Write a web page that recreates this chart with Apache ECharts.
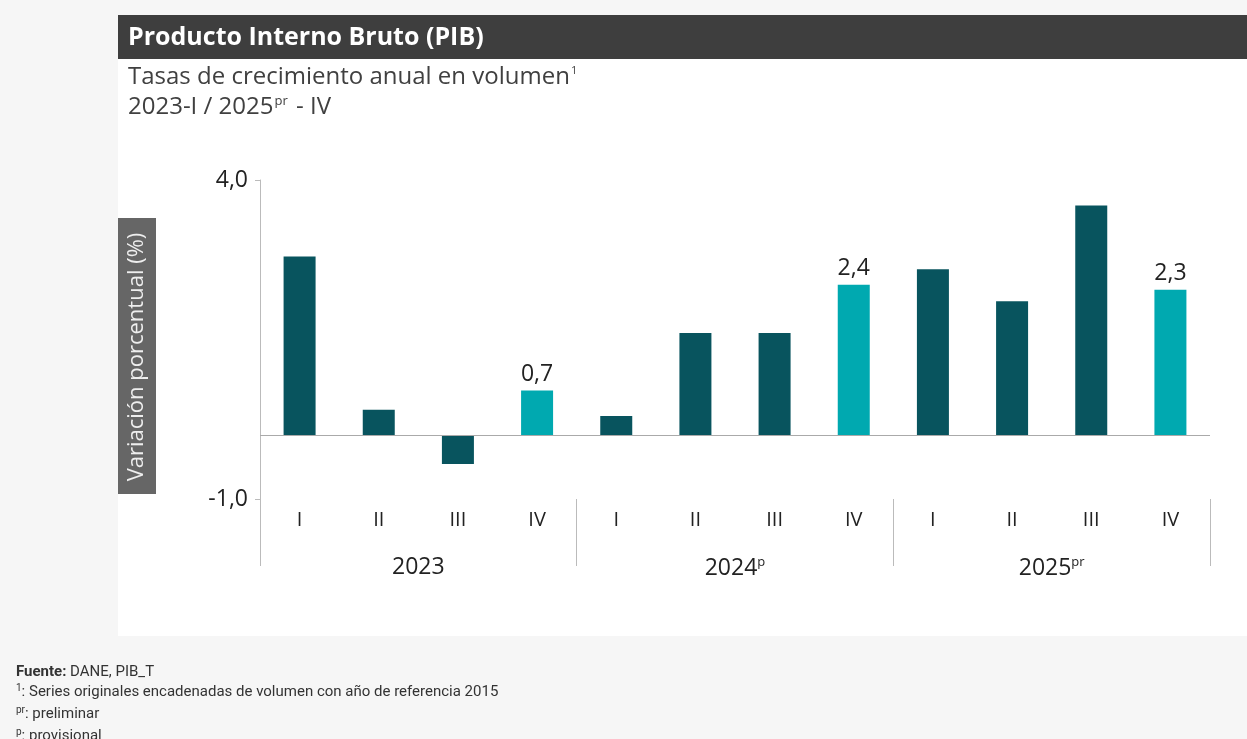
<!DOCTYPE html>
<html>
<head>
<meta charset="utf-8">
<style>
html,body{margin:0;padding:0;background:#f6f6f6;}
#chart{width:1247px;height:739px;}
</style>
<script src="https://cdn.jsdelivr.net/npm/echarts@6/dist/echarts.min.js"></script>
</head>
<body>
<div id="chart"></div>
<script>
const quarters = ['I','II','III','IV','I','II','III','IV','I','II','III','IV'];
const years = ['2023','2024','2025'];
const yearSup = {'2023':'', '2024':'p', '2025':'pr'};
const values = [2.8, 0.4, -0.45, 0.7, 0.3, 1.6, 1.6, 2.36, 2.6, 2.1, 3.6, 2.28];

const DARK = '#08545e', LIGHT = '#00a9b0';
const FONT = 'Open Sans';

const chart = echarts.init(document.getElementById('chart'));
const fmt = v => v.toFixed(1).replace('.', ',');

const barData = values.map((v, i) => {
  const hi = quarters[i] === 'IV';
  return {
    value: v,
    itemStyle: {color: hi ? LIGHT : DARK},
    label: {show: hi}
  };
});

chart.setOption({
  backgroundColor: '#f6f6f6',
  animation: false,
  graphic: [
    {type:'rect', z:-10, shape:{x:118,y:15,width:1129,height:621}, style:{fill:'#ffffff'}},
    {type:'rect', z:-9, shape:{x:118,y:15,width:1129,height:44}, style:{fill:'#3e3e3e'}},
    {type:'text', x:128, y:38, style:{text:'Producto Interno Bruto (PIB)', fill:'#ffffff', font:'bold 25px "Open Sans"', textVerticalAlign:'middle'}},
    {type:'text', x:128, y:77, style:{
      text:'Tasas de crecimiento anual en volumen{s|1}', textVerticalAlign:'middle',
      fill:'#404040', font:'24px "Open Sans"',
      rich:{s:{fontSize:11, fontFamily:FONT, fill:'#404040', verticalAlign:'top', padding:[0,0,12,1]}}
    }},
    {type:'text', x:128, y:107, style:{
      text:'2023-I / 2025{s|pr} - IV', textVerticalAlign:'middle',
      fill:'#404040', font:'24px "Open Sans"',
      rich:{s:{fontSize:13, fontFamily:FONT, fill:'#404040', verticalAlign:'top', padding:[0,2,10,1]}}
    }},
    {type:'rect', shape:{x:118,y:218,width:38,height:276}, style:{fill:'#666666'}},
    {type:'text', x:137, y:357, rotation:Math.PI/2, style:{
      text:'Variación porcentual (%)', fill:'#eeeeee', font:'22px "Open Sans"',
      textAlign:'center', textVerticalAlign:'middle'}},
    {type:'text', x:16, y:672, style:{
      text:'{b|Fuente:} DANE, PIB_T', textVerticalAlign:'middle', fill:'#333', font:'15px Roboto',
      rich:{b:{fontWeight:'bold', fontSize:15, fontFamily:'Roboto', fill:'#333'}}}},
    {type:'text', x:16, y:692, style:{
      text:'{s|1}: Series originales encadenadas de volumen con año de referencia 2015', textVerticalAlign:'middle', fill:'#333', font:'15px Roboto',
      rich:{s:{fontSize:10, fontFamily:'Roboto', fill:'#333', verticalAlign:'top', padding:[0,0,8,0]}}}},
    {type:'text', x:16, y:714, style:{
      text:'{s|pr}: preliminar', textVerticalAlign:'middle', fill:'#333', font:'15px Roboto',
      rich:{s:{fontSize:10, fontFamily:'Roboto', fill:'#333', verticalAlign:'top', padding:[0,0,8,0]}}}},
    {type:'text', x:16, y:736, style:{
      text:'{s|p}: provisional', textVerticalAlign:'middle', fill:'#333', font:'15px Roboto',
      rich:{s:{fontSize:10, fontFamily:'Roboto', fill:'#333', verticalAlign:'top', padding:[0,0,8,0]}}}}
  ],
  grid: {left:260, right:37, top:180, bottom:240, containLabel:false},
  xAxis: [
    {
      type:'category', data:quarters, position:'bottom',
      axisLine:{show:false}, axisTick:{show:false},
      axisLabel:{color:'#222', fontSize:20, fontFamily:FONT, margin:11, interval:0}
    },
    {
      type:'category', data:years, position:'bottom',
      axisLine:{show:false},
      axisTick:{show:true, length:67, lineStyle:{color:'#bbbbbb'}},
      axisLabel:{
        margin:57, interval:0, color:'#222', fontSize:23, fontFamily:FONT,
        formatter: y => yearSup[y] ? y + '{s|' + yearSup[y] + '}' : y,
        rich:{s:{fontSize:13, fontFamily:FONT, color:'#222', verticalAlign:'top', padding:[0,0,11,0]}}
      }
    }
  ],
  yAxis: {
    type:'value', min:-1, max:4, interval:5,
    axisLine:{show:true, lineStyle:{color:'#bbbbbb'}},
    axisTick:{show:true, length:5, lineStyle:{color:'#bbbbbb'}},
    splitLine:{show:false},
    axisLabel:{color:'#222', fontSize:23, fontFamily:FONT, margin:12, formatter: v => fmt(v)}
  },
  series: [{
    type:'bar', xAxisIndex:0, data:barData, barWidth:32,
    label:{position:'top', distance:5, color:'#222', fontSize:23, fontFamily:FONT, formatter: p => fmt(p.value)},
    markLine:{
      silent:true, symbol:'none', label:{show:false},
      lineStyle:{color:'#aaaaaa', type:'solid', width:1},
      data:[{yAxis:0}]
    }
  }]
});
</script>
</body>
</html>
